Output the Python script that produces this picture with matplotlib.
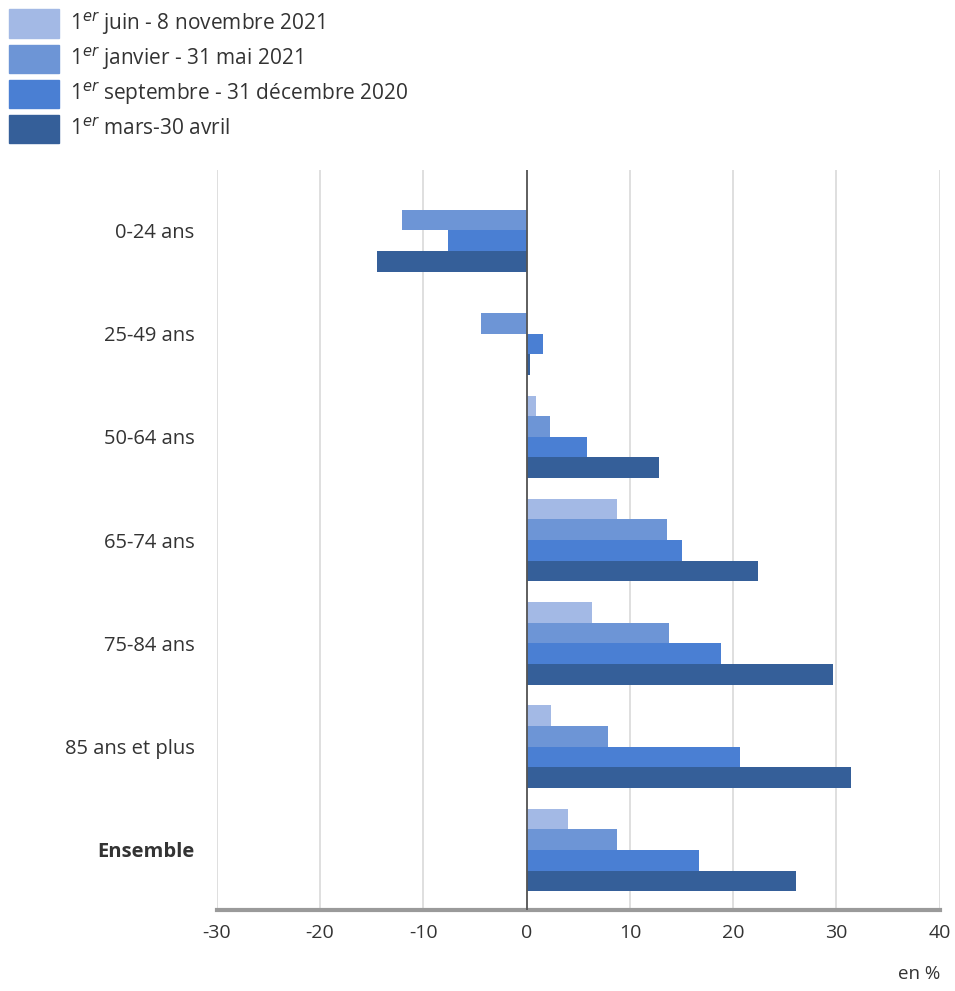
import numpy as np
import matplotlib.pyplot as plt
from matplotlib.patches import Patch

plt.rcParams['font.family'] = ['Open Sans', 'DejaVu Sans']
plt.rcParams['axes.unicode_minus'] = False

categories = ["0-24 ans", "25-49 ans", "50-64 ans", "65-74 ans", "75-84 ans",
              "85 ans et plus", "Ensemble"]
series = ["1$^{er}$ juin - 8 novembre 2021",
          "1$^{er}$ janvier - 31 mai 2021",
          "1$^{er}$ septembre - 31 décembre 2020",
          "1$^{er}$ mars-30 avril"]
juin_nov = [0.0, 0.0, 0.9, 8.8, 6.3, 2.4, 4.0]
janv_mai = [-12.1, -4.4, 2.3, 13.6, 13.8, 7.9, 8.8]
sept_dec = [-7.6, 1.6, 5.8, 15.0, 18.8, 20.7, 16.7]
mars_avr = [-14.5, 0.3, 12.8, 22.4, 29.7, 31.4, 26.1]
colors = ["#a3b9e5", "#6d95d6", "#4a7fd3", "#355f99"]

fig = plt.figure(figsize=(9.55, 9.91), dpi=100)
ax = fig.add_axes([0.227, 0.082, 0.757, 0.746])

y = np.arange(len(categories))
h = 0.2
for i, (vals, c) in enumerate(zip([juin_nov, janv_mai, sept_dec, mars_avr], colors)):
    ax.barh(y + (i - 1.5) * h, vals, height=h, color=c, zorder=3)

ax.set_xlim(-30, 40)
ax.set_ylim(6.58, -0.58)
ax.set_xticks(np.arange(-30, 41, 10))
ax.set_yticks(y)
ax.set_yticklabels(categories, fontsize=14.5, color="#333333")
ax.get_yticklabels()[-1].set_fontweight("bold")
ax.tick_params(axis="x", labelsize=14, colors="#333333", length=0, pad=10)
ax.tick_params(axis="y", length=0, pad=16)
ax.grid(axis="x", color="#d9d9d9", linewidth=1.2, zorder=0)
ax.axvline(0, color="#555555", linewidth=1.3, zorder=4)
for s in ["top", "right", "left"]:
    ax.spines[s].set_visible(False)
ax.spines["bottom"].set_color("#9a9a9a")
ax.spines["bottom"].set_linewidth(3)

fig.text(0.985, 0.008, "en %", ha="right", va="bottom", fontsize=13.5, color="#333333")

handles = [Patch(color=c) for c in colors]
fig.legend(handles, series, loc="upper left", bbox_to_anchor=(0.0, 1.0),
           frameon=False, fontsize=15, handlelength=2.4, handleheight=1.7,
           labelspacing=0.32, handletextpad=0.5, borderaxespad=0.05,
           labelcolor="#333333")

plt.savefig("out.png")
